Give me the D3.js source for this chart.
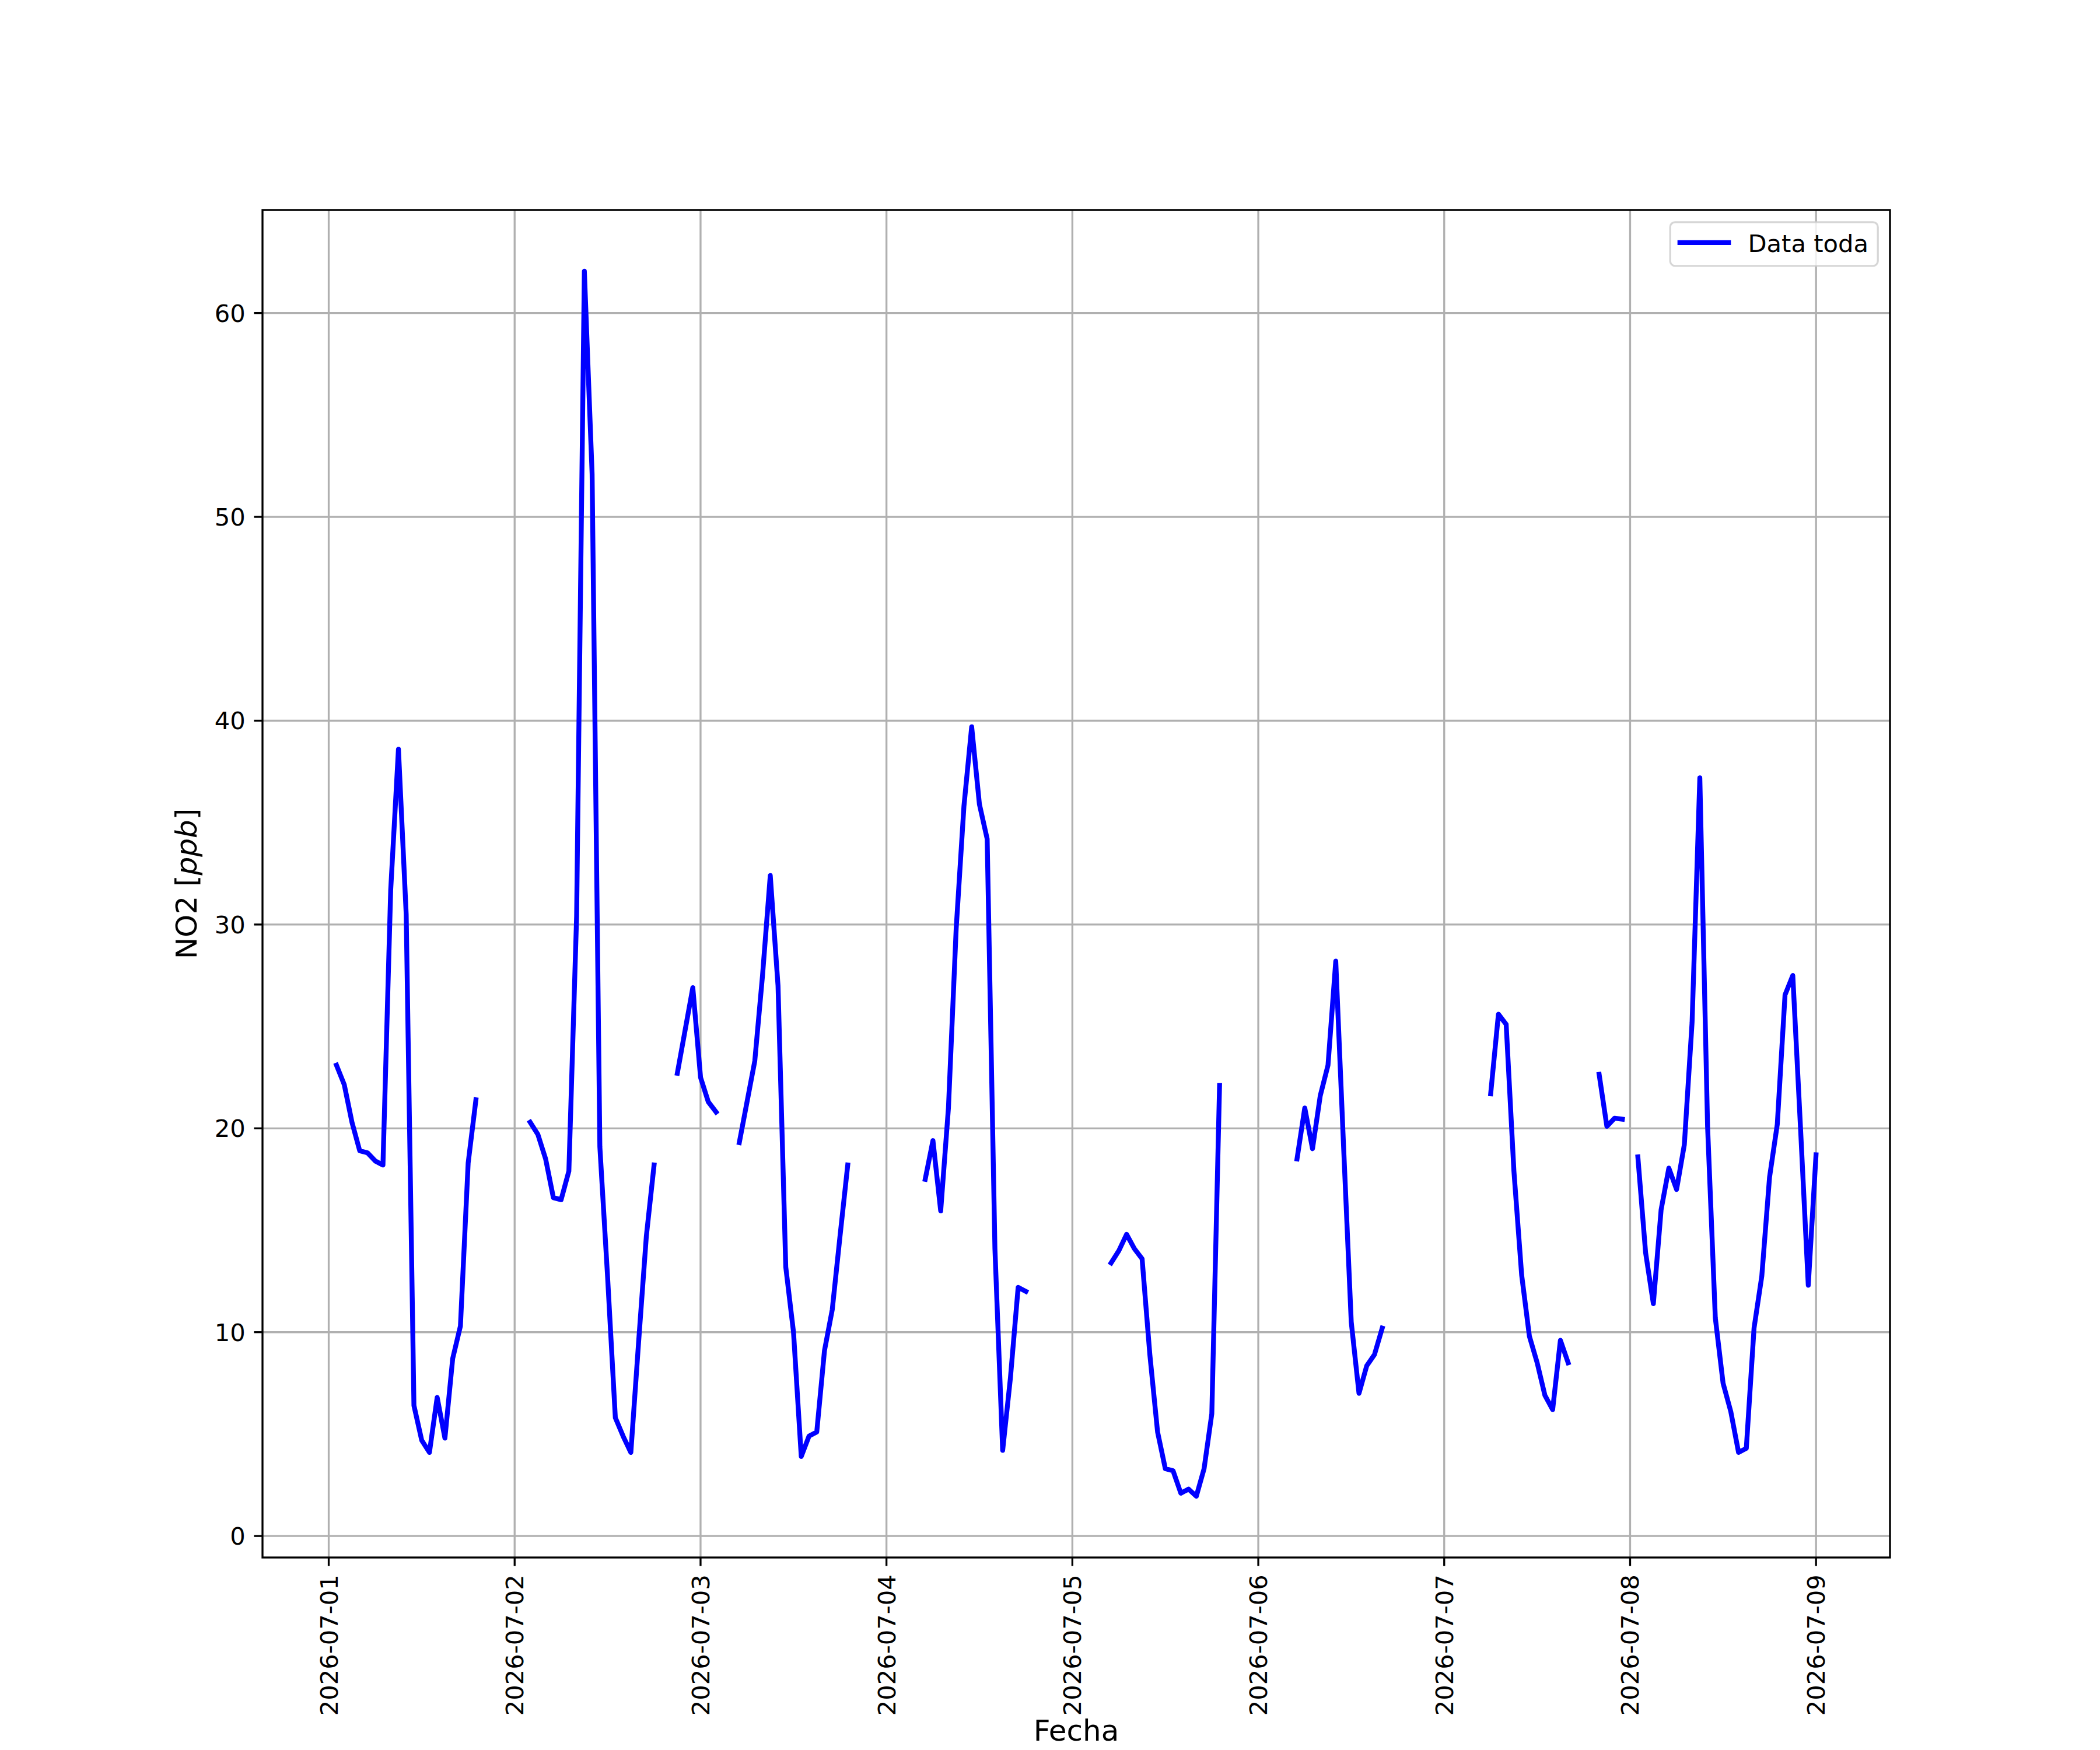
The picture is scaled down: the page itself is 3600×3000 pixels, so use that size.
<!DOCTYPE html>
<html>
<head>
<meta charset="utf-8">
<script src="https://cdn.jsdelivr.net/npm/d3@7"></script>
<style>
  body { margin: 0; background: #fff; }
  text { font-family: "DejaVu Sans", sans-serif; }
</style>
</head>
<body>
<div id="chart"></div>
<script>
// Hourly NO2 readings (ppb), one array per day, index = hour of day, null = no data
const dates = ["2026-07-01", "2026-07-02", "2026-07-03", "2026-07-04", "2026-07-05",
               "2026-07-06", "2026-07-07", "2026-07-08", "2026-07-09"];

const no2_0701 = [null, 23.1, 22.15, 20.3, 18.9, 18.8, 18.4, 18.2, 31.7, 38.6, 30.5, 6.4,
                  4.7, 4.1, 6.8, 4.8, 8.7, 10.3, 18.3, 21.4, null, null, null, null];
const no2_0702 = [null, null, 20.3, 19.7, 18.5, 16.6, 16.5, 17.9, 30.4, 62.05, 52.1, 19.1,
                  12.7, 5.8, 4.9, 4.1, 9.5, 14.7, 18.2, null, null, 22.7, 24.8, 26.9];
const no2_0703 = [22.5, 21.3, 20.8, null, null, 19.3, 21.3, 23.3, 27.5, 32.4, 27.0, 13.2,
                  10.0, 3.9, 4.9, 5.1, 9.1, 11.1, 14.7, 18.2, null, null, null, null];
const no2_0704 = [null, null, null, null, null, 17.5, 19.4, 15.95, 21.0, 29.8, 35.8, 39.7,
                  35.9, 34.2, 14.1, 4.2, 7.75, 12.2, 12.0, null, null, null, null, null];
const no2_0705 = [null, null, null, null, null, 13.4, 14.0, 14.8, 14.1, 13.6, 8.9, 5.1,
                  3.3, 3.2, 2.1, 2.3, 1.95, 3.3, 6.0, 22.1, null, null, null, null];
const no2_0706 = [null, null, null, null, null, 18.5, 21.0, 19.0, 21.6, 23.1, 28.2, 19.2,
                  10.5, 7.0, 8.35, 8.9, 10.2, null, null, null, null, null, null, null];
const no2_0707 = [null, null, null, null, null, null, 21.7, 25.6, 25.1, 17.9, 12.8, 9.8,
                  8.5, 6.9, 6.2, 9.6, 8.5, null, null, null, 22.65, 20.1, 20.5, 20.45];
const no2_0708 = [null, 18.6, 13.9, 11.4, 16.0, 18.05, 17.0, 19.2, 25.2, 37.2, 20.1, 10.7,
                  7.5, 6.1, 4.1, 4.3, 10.2, 12.75, 17.6, 20.2, 26.55, 27.5, 20.0, 12.3];
const no2_0709 = [18.7];

const dayValues = [no2_0701, no2_0702, no2_0703, no2_0704, no2_0705,
                   no2_0706, no2_0707, no2_0708, no2_0709];

const yTicks = [0, 10, 20, 30, 40, 50, 60];
const seriesName = "Data toda";

// Figure geometry (12x10 in at 300 dpi)
const width = 3600;
const height = 3000;
const axLeft = 450, axRight = 3240, axTop = 360, axBottom = 2670;
const pt = 300 / 72;
const fontSize = 10 * pt;
const labelSize = 12 * pt;
const lineW = 2 * pt;

// Flatten the days into one hourly series
const points = [];
dates.forEach((day, i) => {
  const [yy, mm, dd] = day.split("-").map(Number);
  dayValues[i].forEach((v, h) => {
    points.push({ t: new Date(Date.UTC(yy, mm - 1, dd, h)), v: v });
  });
});
const valid = points.filter(d => d.v != null);

// Matplotlib-like 5% margins on both axes
const tExt = d3.extent(valid, d => d.t.getTime());
const tPad = (tExt[1] - tExt[0]) * 0.05;
const vExt = d3.extent(valid, d => d.v);
const vPad = (vExt[1] - vExt[0]) * 0.05;

const x = d3.scaleUtc()
  .domain([new Date(tExt[0] - tPad), new Date(tExt[1] + tPad)])
  .range([axLeft, axRight]);

const y = d3.scaleLinear()
  .domain([vExt[0] - vPad, vExt[1] + vPad])
  .range([axBottom, axTop]);

const xTicks = x.ticks(d3.utcDay.every(1));
const fmt = d3.utcFormat("%Y-%m-%d");

const svg = d3.select("#chart")
  .append("svg")
  .attr("width", width)
  .attr("height", height);

svg.append("rect")
  .attr("width", width)
  .attr("height", height)
  .attr("fill", "#fff");

// Grid
svg.append("g")
  .selectAll("line")
  .data(xTicks)
  .enter()
  .append("line")
  .attr("x1", d => x(d)).attr("x2", d => x(d))
  .attr("y1", axTop).attr("y2", axBottom)
  .attr("stroke", "#b0b0b0")
  .attr("stroke-width", 0.8 * pt);

svg.append("g")
  .selectAll("line")
  .data(yTicks)
  .enter()
  .append("line")
  .attr("x1", axLeft).attr("x2", axRight)
  .attr("y1", d => y(d)).attr("y2", d => y(d))
  .attr("stroke", "#b0b0b0")
  .attr("stroke-width", 0.8 * pt);

// Data line, broken where values are missing
const line = d3.line()
  .defined(d => d.v != null)
  .x(d => x(d.t))
  .y(d => y(d.v));

svg.append("path")
  .datum(points)
  .attr("fill", "none")
  .attr("stroke", "#0000ff")
  .attr("stroke-width", lineW)
  .attr("stroke-linejoin", "round")
  .attr("stroke-linecap", "square")
  .attr("d", line);

// Axes frame
svg.append("rect")
  .attr("x", axLeft)
  .attr("y", axTop)
  .attr("width", axRight - axLeft)
  .attr("height", axBottom - axTop)
  .attr("fill", "none")
  .attr("stroke", "#000")
  .attr("stroke-width", 0.8 * pt);

// X axis ticks and labels
const tickLen = 3.5 * pt;
const xAxis = svg.append("g");
xAxis.selectAll("line")
  .data(xTicks)
  .enter()
  .append("line")
  .attr("x1", d => x(d)).attr("x2", d => x(d))
  .attr("y1", axBottom).attr("y2", axBottom + tickLen)
  .attr("stroke", "#000")
  .attr("stroke-width", 0.8 * pt);

xAxis.selectAll("text")
  .data(xTicks)
  .enter()
  .append("text")
  .attr("transform", d => `translate(${x(d)},${axBottom + tickLen + 3.5 * pt}) rotate(-90)`)
  .attr("text-anchor", "end")
  .attr("dy", "0.36em")
  .attr("font-size", fontSize)
  .attr("fill", "#000")
  .text(d => fmt(d));

// Y axis ticks and labels
const yAxis = svg.append("g");
yAxis.selectAll("line")
  .data(yTicks)
  .enter()
  .append("line")
  .attr("x1", axLeft - tickLen).attr("x2", axLeft)
  .attr("y1", d => y(d)).attr("y2", d => y(d))
  .attr("stroke", "#000")
  .attr("stroke-width", 0.8 * pt);

yAxis.selectAll("text")
  .data(yTicks)
  .enter()
  .append("text")
  .attr("x", axLeft - tickLen - 3.5 * pt)
  .attr("y", d => y(d))
  .attr("dy", "0.36em")
  .attr("text-anchor", "end")
  .attr("font-size", fontSize)
  .attr("fill", "#000")
  .text(d => d);

// Axis labels
svg.append("text")
  .attr("x", (axLeft + axRight) / 2)
  .attr("y", 2984)
  .attr("text-anchor", "middle")
  .attr("font-size", labelSize)
  .attr("fill", "#000")
  .text("Fecha");

const yLabel = svg.append("text")
  .attr("transform", `translate(337,${(axTop + axBottom) / 2}) rotate(-90)`)
  .attr("text-anchor", "middle")
  .attr("font-size", labelSize)
  .attr("fill", "#000");
yLabel.append("tspan").text("NO2 [");
yLabel.append("tspan").attr("font-style", "italic").text("ppb");
yLabel.append("tspan").text("]");

// Legend (upper right)
const legW = 356, legH = 75;
const legX = axRight - 0.5 * fontSize - legW;
const legY = axTop + 0.5 * fontSize;
const legend = svg.append("g");
legend.append("rect")
  .attr("x", legX)
  .attr("y", legY)
  .attr("width", legW)
  .attr("height", legH)
  .attr("rx", 0.2 * fontSize)
  .attr("fill", "#fff")
  .attr("fill-opacity", 0.8)
  .attr("stroke", "#cccccc")
  .attr("stroke-opacity", 0.8)
  .attr("stroke-width", 0.8 * pt);

legend.append("line")
  .attr("x1", legX + 0.4 * fontSize)
  .attr("x2", legX + 0.4 * fontSize + 2 * fontSize)
  .attr("y1", legY + 35)
  .attr("y2", legY + 35)
  .attr("stroke", "#0000ff")
  .attr("stroke-width", lineW)
  .attr("stroke-linecap", "square");

legend.append("text")
  .attr("x", legX + 0.4 * fontSize + 2.8 * fontSize)
  .attr("y", legY + 51)
  .attr("font-size", fontSize)
  .attr("fill", "#000")
  .text(seriesName);
</script>
</body>
</html>
